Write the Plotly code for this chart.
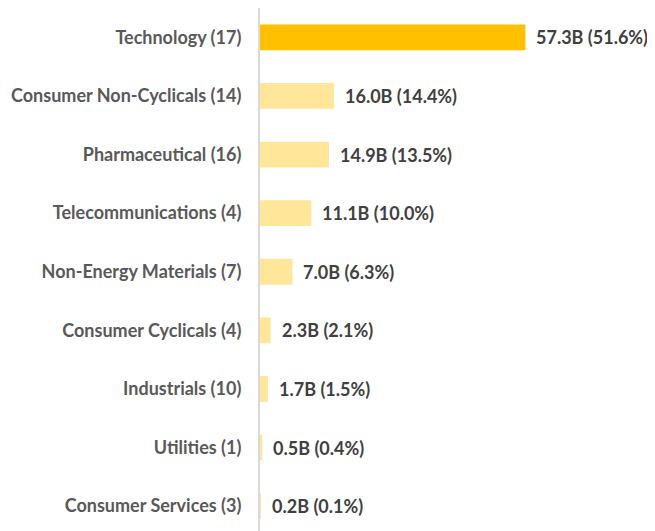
import plotly.graph_objects as go

categories = ["Technology (17)", "Consumer Non-Cyclicals (14)", "Pharmaceutical (16)",
              "Telecommunications (4)", "Non-Energy Materials (7)", "Consumer Cyclicals (4)",
              "Industrials (10)", "Utilities (1)", "Consumer Services (3)"]
values = [57.3, 16.0, 14.9, 11.1, 7.0, 2.3, 1.7, 0.5, 0.2]
shares = [51.6, 14.4, 13.5, 10.0, 6.3, 2.1, 1.5, 0.4, 0.1]
labels = [f"{v:.1f}B ({s:.1f}%)" for v, s in zip(values, shares)]
colors = ["#FFC000"] + ["#FFE699"] * (len(values) - 1)

fig = go.Figure(go.Bar(
    x=values, y=categories, orientation="h",
    marker=dict(color=colors, line=dict(width=0)),
    width=0.44, hoverinfo="skip",
))

for v, c, t in zip(values, categories, labels):
    fig.add_annotation(x=v, y=c, text=t, showarrow=False, xanchor="left",
                       xshift=9, font=dict(family="Lato", size=18, color="#404040", weight="bold"))

fig.update_layout(
    width=655, height=531,
    margin=dict(l=252, r=0, t=0, b=0),
    plot_bgcolor="white", paper_bgcolor="white",
    showlegend=False,
    xaxis=dict(range=[0, 87.0], visible=False, showgrid=False, zeroline=False, automargin=False),
    yaxis=dict(type="category", categoryorder="array", categoryarray=categories,
               range=[8.56, -0.5], showgrid=False, zeroline=False, automargin=False,
               showline=True, linecolor="#D9D9D9", linewidth=2,
               ticks="", ticklabelstandoff=13,
               tickfont=dict(family="Lato", size=18, color="#595959", weight="bold")),
)

fig.write_html("out.html")
